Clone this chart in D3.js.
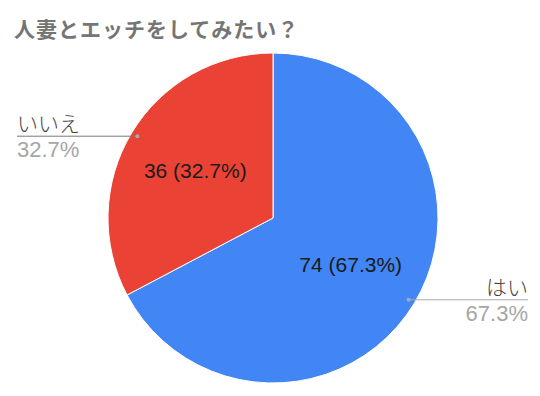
<!DOCTYPE html>
<html>
<head>
<meta charset="utf-8">
<script src="https://cdn.jsdelivr.net/npm/d3@7"></script>
<style>
  body { margin: 0; background: #fff; }
  text { font-family: "Liberation Sans", Arial, "Noto Sans CJK JP", sans-serif; }
</style>
</head>
<body>
<div id="chart"></div>
<script>
// data
var answers = ['はい', 'いいえ'];
var votes = [74, 36];
var colors = ['#4285f4', '#ea4335'];

var width = 540,
  height = 396,
  cx = 273,
  cy = 218,
  radius = 165;

var total = d3.sum(votes);
var data = answers.map(function(a, i) {
  return { answer: a, votes: votes[i], pct: (votes[i] / total * 100).toFixed(1) + '%' };
});

var svg = d3.select('#chart').append('svg')
  .attr('width', width)
  .attr('height', height);

svg.append('text')
  .attr('x', 14)
  .attr('y', 37)
  .attr('fill', '#757575')
  .style('font-size', '21px')
  .style('font-weight', 'bold')
  .style('letter-spacing', '1px')
  .style('font-family', '"Noto Sans CJK JP", sans-serif')
  .text('人妻とエッチをしてみたい？');

var pie = d3.pie().sort(null).value(function(d) { return d.votes; });
var arc = d3.arc().innerRadius(0).outerRadius(radius);
var labelArc = d3.arc().innerRadius(radius * 0.55).outerRadius(radius * 0.55);
var anchorArc = d3.arc().innerRadius(radius * 0.96).outerRadius(radius * 0.96);

var g = svg.append('g').attr('transform', 'translate(' + cx + ',' + cy + ')');

var arcs = pie(data);

g.selectAll('path')
  .data(arcs)
  .enter().append('path')
  .attr('d', arc)
  .attr('fill', function(d, i) { return colors[i]; })
  .attr('stroke', '#fff')
  .attr('stroke-width', 1);

g.selectAll('.inner')
  .data(arcs)
  .enter().append('text')
  .attr('class', 'inner')
  .attr('transform', function(d) { return 'translate(' + labelArc.centroid(d) + ')'; })
  .attr('dy', '.35em')
  .attr('text-anchor', 'middle')
  .attr('fill', '#1a1a1a')
  .style('font-size', '21px')
  .text(function(d) { return d.data.votes + ' (' + d.data.pct + ')'; });

// legend labels with leader lines
var lineEnd = [528, 17];

arcs.forEach(function(d, i) {
  var p = anchorArc.centroid(d);
  var x = cx + p[0], y = cy + p[1];
  var right = p[0] > 0;
  var ex = lineEnd[i];

  svg.append('line')
    .attr('x1', x).attr('y1', y)
    .attr('x2', ex).attr('y2', y)
    .attr('stroke', right ? '#aaa' : '#777')
    .attr('stroke-width', 1);

  svg.append('circle')
    .attr('cx', x).attr('cy', y)
    .attr('r', 2)
    .attr('fill', '#aaa');

  svg.append('text')
    .attr('x', ex).attr('y', y - 5)
    .attr('text-anchor', right ? 'end' : 'start')
    .attr('fill', '#444')
    .style('font-size', '21px')
    .style('font-family', '"Noto Sans CJK JP", sans-serif')
    .style('font-weight', 300)
    .text(d.data.answer);

  svg.append('text')
    .attr('x', ex).attr('y', y + 21)
    .attr('text-anchor', right ? 'end' : 'start')
    .attr('fill', '#a6a6a6')
    .style('font-size', '22px')
    .text(d.data.pct);
});
</script>
</body>
</html>
